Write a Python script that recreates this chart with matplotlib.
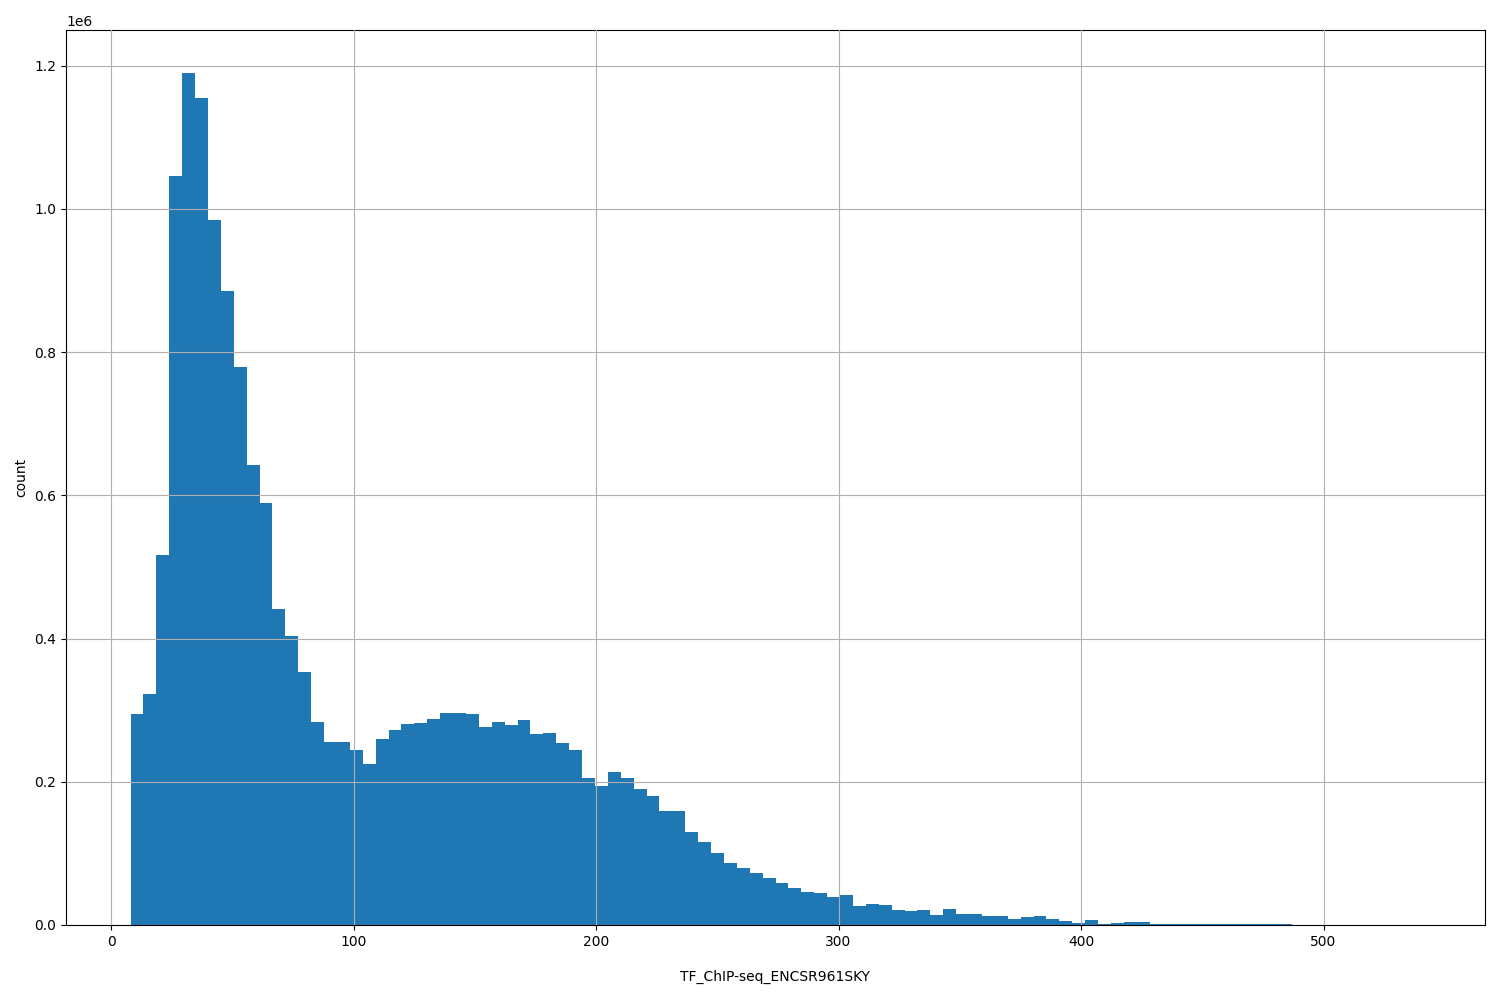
import numpy as np
import matplotlib
matplotlib.use("Agg")
import matplotlib.pyplot as plt

x_min, x_max, n_bins = 8.0, 540.0, 100
counts_millions = [
 0.295,0.323,0.517,1.046,1.190,1.155,0.984,0.886,0.779,0.643,
 0.589,0.442,0.403,0.354,0.283,0.255,0.255,0.245,0.225,0.260,
 0.273,0.281,0.282,0.288,0.296,0.296,0.294,0.276,0.283,0.280,
 0.287,0.267,0.268,0.254,0.244,0.205,0.194,0.213,0.206,0.190,
 0.180,0.159,0.159,0.130,0.116,0.101,0.087,0.079,0.073,0.065,
 0.059,0.052,0.046,0.044,0.039,0.042,0.026,0.029,0.028,0.021,
 0.020,0.021,0.014,0.022,0.016,0.015,0.013,0.013,0.008,0.011,
 0.013,0.009,0.005,0.003,0.007,0.001,0.003,0.004,0.004,0.002,
 0.002,0.002,0.001,0.002,0.002,0.001,0.001,0.002,0.001,0.002,
 0.0005,0.0005,0.0005,0.0004,0.0004,0.0003,0.0003,0.0003,0.0002,0.0002,
]
counts = np.array(counts_millions) * 1e6
edges = np.linspace(x_min, x_max, n_bins + 1)
centers = (edges[:-1] + edges[1:]) / 2

fig, ax = plt.subplots(figsize=(15, 10), dpi=100)
ax.hist(centers, bins=edges, weights=counts, color="#1f77b4", zorder=2)
ax.grid(True, zorder=0)
ax.set_axisbelow(False)
ax.set_xlabel("TF_ChIP-seq_ENCSR961SKY", labelpad=15)
ax.set_ylabel("count")
ax.set_xlim(-18.6, 566.6)
ax.set_ylim(0, 1.25e6)
plt.subplots_adjust(left=0.044, right=0.99, top=0.97, bottom=0.075)
fig.savefig("out.png")
